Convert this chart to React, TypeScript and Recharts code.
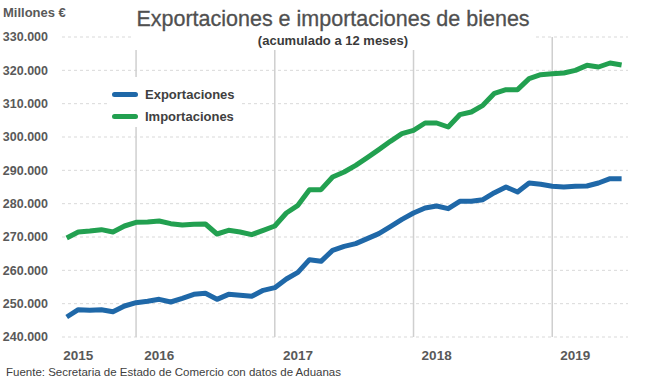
import { LineChart, Line, XAxis, YAxis, CartesianGrid, ReferenceLine, Legend } from "recharts";

const meses = [
  "jun-15", "jul-15", "ago-15", "sep-15", "oct-15", "nov-15", "dic-15",
  "ene-16", "feb-16", "mar-16", "abr-16", "may-16", "jun-16", "jul-16", "ago-16", "sep-16", "oct-16", "nov-16", "dic-16",
  "ene-17", "feb-17", "mar-17", "abr-17", "may-17", "jun-17", "jul-17", "ago-17", "sep-17", "oct-17", "nov-17", "dic-17",
  "ene-18", "feb-18", "mar-18", "abr-18", "may-18", "jun-18", "jul-18", "ago-18", "sep-18", "oct-18", "nov-18", "dic-18",
  "ene-19", "feb-19", "mar-19", "abr-19", "may-19", "jun-19",
];

// millones de euros, acumulado 12 meses
const exportaciones = [
  246000, 248200, 248000, 248200, 247600, 249300, 250300,
  250700, 251300, 250500, 251600, 252800, 253100, 251300, 252800, 252500, 252200, 254000, 254800,
  257400, 259400, 263200, 262700, 266000, 267200, 268000, 269500, 271000, 273100, 275300, 277200,
  278700, 279300, 278500, 280700, 280700, 281200, 283300, 285000, 283500, 286200, 285800, 285200,
  285000, 285200, 285300, 286200, 287500, 287500,
];

const importaciones = [
  269700, 271500, 271800, 272200, 271500, 273300, 274400,
  274500, 274800, 274000, 273600, 273800, 273900, 270900, 272000, 271500, 270700, 272000, 273300,
  277200, 279500, 284200, 284200, 288000, 289500, 291500, 293800, 296200, 298700, 301000, 302000,
  304200, 304200, 303000, 306700, 307500, 309500, 313100, 314200, 314200, 317500, 318700, 319000,
  319200, 320000, 321500, 321000, 322200, 321600,
];

const yTicks = [240000, 250000, 260000, 270000, 280000, 290000, 300000, 310000, 320000, 330000];
const finDeAno = ["dic-15", "dic-16", "dic-17", "dic-18"];
const etiquetasAno: Record<string, string> = {
  "jul-15": "2015",
  "feb-16": "2016",
  "feb-17": "2017",
  "feb-18": "2018",
  "feb-19": "2019",
};

const data = meses.map((mes, i) => ({
  mes,
  exportaciones: exportaciones[i],
  importaciones: importaciones[i],
}));

const FONT = "'Liberation Sans', Arial, sans-serif";
const AZUL = "#1F68A8";
const VERDE = "#22A050";

const fmtMiles = (v: number) => v.toLocaleString("de-DE");

function LeyendaSeries({ payload }: any) {
  return (
    <div style={{ background: "#fff", padding: "6px 0 0 5px" }}>
      {(payload || []).map((p: any) => (
        <div key={p.value} style={{ display: "flex", alignItems: "center", height: 22 }}>
          <span
            style={{
              display: "inline-block",
              width: 26,
              height: 5,
              borderRadius: 3,
              background: p.color,
              marginRight: 7,
            }}
          />
          <span style={{ fontFamily: FONT, fontSize: 13, fontWeight: 700, color: "#404040" }}>
            {p.value}
          </span>
        </div>
      ))}
    </div>
  );
}

export default function App() {
  return (
    <div
      style={{
        position: "absolute",
        left: 0,
        top: 0,
        width: 670,
        height: 385,
        background: "#fff",
        fontFamily: FONT,
      }}
    >
      <LineChart
        width={670}
        height={385}
        data={data}
        margin={{ top: 37, right: 42, left: 0, bottom: 0 }}
      >
        <CartesianGrid vertical={false} stroke="#d9d9d9" strokeDasharray="3 3" />
        {finDeAno.map((m) => (
          <ReferenceLine key={m} x={m} stroke="#cfcfcf" strokeWidth={1.5} />
        ))}
        <XAxis
          dataKey="mes"
          ticks={Object.keys(etiquetasAno)}
          tickFormatter={(m) => etiquetasAno[m] || ""}
          interval={0}
          padding={{ left: 4.7, right: 6.4 }}
          axisLine={false}
          tickLine={false}
          tickSize={10}
          tickMargin={3}
          height={48}
          tick={{ fontSize: 13.5, fontWeight: 700, fill: "#595959", fontFamily: FONT }}
        />
        <YAxis
          domain={[240000, 330000]}
          ticks={yTicks}
          tickFormatter={fmtMiles}
          axisLine={false}
          tickLine={false}
          tickSize={14}
          tickMargin={0}
          width={62}
          tick={{ fontSize: 12.5, fontWeight: 700, fill: "#595959", fontFamily: FONT }}
        />
        <Legend
          layout="vertical"
          align="center"
          verticalAlign="middle"
          wrapperStyle={{ left: 107, top: 77, width: 133, height: 48 }}
          content={<LeyendaSeries />}
        />
        <Line
          name="Exportaciones"
          dataKey="exportaciones"
          type="linear"
          stroke={AZUL}
          strokeWidth={5}
          strokeLinejoin="round"
          dot={false}
          isAnimationActive={false}
        />
        <Line
          name="Importaciones"
          dataKey="importaciones"
          type="linear"
          stroke={VERDE}
          strokeWidth={5}
          strokeLinejoin="round"
          dot={false}
          isAnimationActive={false}
        />
      </LineChart>

      <div
        style={{
          position: "absolute",
          left: 3,
          top: 5,
          fontSize: 13,
          fontWeight: 700,
          color: "#595959",
        }}
      >
        Millones €
      </div>

      <div
        style={{
          position: "absolute",
          left: 133,
          top: 0,
          width: 400,
          height: 50,
          background: "#fff",
          textAlign: "center",
        }}
      >
        <div style={{ fontSize: 21.5, color: "#505050", lineHeight: "24px", paddingTop: 7, WebkitTextStroke: "0.3px #505050" }}>
          Exportaciones e importaciones de bienes
        </div>
        <div style={{ fontSize: 13, fontWeight: 700, color: "#3a3a3a", lineHeight: "16px", marginTop: 2 }}>
          (acumulado a 12 meses)
        </div>
      </div>

      <div
        style={{
          position: "absolute",
          left: 6,
          top: 366,
          fontSize: 11.5,
          color: "#404040",
        }}
      >
        Fuente: Secretaria de Estado de Comercio con datos de Aduanas
      </div>
    </div>
  );
}
